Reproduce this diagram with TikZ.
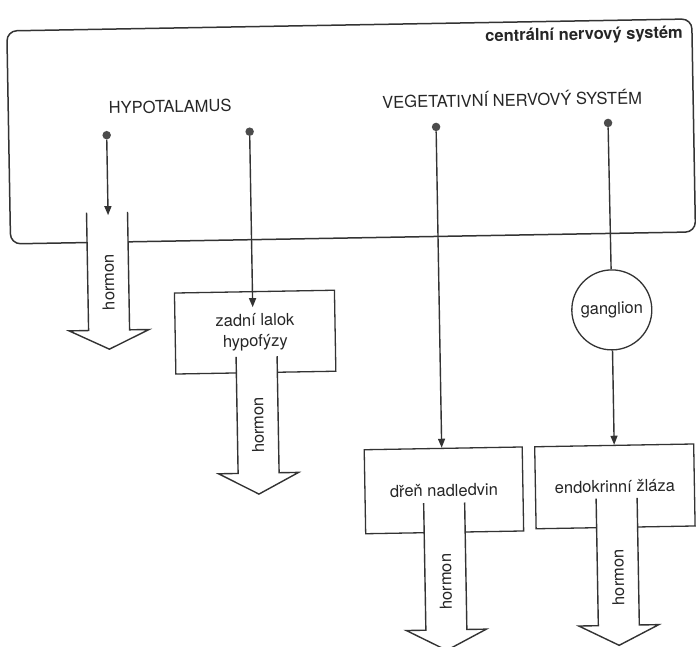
\documentclass[tikz,border=0pt]{standalone}
\usepackage{fontspec}
\setmainfont{TeX Gyre Heros}
\usetikzlibrary{arrows.meta}
\tikzset{
  ink/.style={draw=black!80, line width=1.4pt},
  lbl/.style={font=\fontsize{16.5}{21}\selectfont, text=black!85, inner sep=0pt},
  dotnode/.style={circle, fill=black!70, inner sep=0pt, minimum size=8.5pt},
  boxnode/.style={ink, line width=1.3pt, rectangle, fill=white, minimum width=159pt, minimum height=82pt,
                  align=center, font=\fontsize{16.5}{21}\selectfont, text=black!85},
  nerve/.style={draw=black!80, line width=1.4pt, -{Triangle[length=9pt,width=7pt]}},
  plainnerve/.style={draw=black!80, line width=1.4pt},
}
\newcommand{\hormonArrow}[5]{%
  \fill[white] (#2-20.5,#3) -- (#2-20.5,#4) -- (#2-40,#4) -- (#2,#5) -- (#2+40,#4) -- (#2+20.5,#4) -- (#2+20.5,#3) -- cycle;
  \draw[ink, line join=miter] (#2-20.5,#3) -- (#2-20.5,#4) -- (#2-40,#4) -- (#2,#5) -- (#2+40,#4) -- (#2+20.5,#4) -- (#2+20.5,#3);
  \node[lbl, rotate=90] (#1) at (#2,#4-48) {hormon};
}
\begin{document}
\begin{tikzpicture}[x=1pt,y=-1pt]
\useasboundingbox (0,0) rectangle (696,646);
\clip (0,0) rectangle (696,646);
\begin{scope}[rotate around={1:(348,323)}, transform shape]
  % central nervous system frame
  \node[ink, line width=1.5pt, rounded corners=10pt, minimum width=685pt, minimum height=213pt] (cns) at (354.5,131.5) {};
  \node[lbl, font=\fontsize{16.5}{20}\selectfont\bfseries, anchor=base east] (title) at (688,44) {centrální nervový systém};
  \node[lbl, anchor=base] (hyp) at (174,109.5) {HYPOTALAMUS};
  \node[lbl, anchor=base] (veg) at (516,109) {VEGETATIVNÍ NERVOVÝ SYSTÉM};

  % target organs
  \node[boxnode, minimum width=160pt, minimum height=81pt] (hyph) at (255,330.5) {zadní lalok\\hypofýzy};
  \node[boxnode, minimum width=158pt, minimum height=84pt] (dren) at (441,492) {dřeň nadledvin};
  \node[boxnode, minimum width=159pt, minimum height=82pt] (endo) at (612,491) {endokrinní žláza};
  \node[ink, line width=1.3pt, circle, fill=white, minimum size=80pt, inner sep=0pt,
        font=\fontsize{16.5}{21}\selectfont, text=black!85] (gang) at (612,314.5) {ganglion};

  % hormone arrows
  \hormonArrow{h1}{109}{208}{326}{345}
  \hormonArrow{h2}{256}{355}{471.5}{492.5}
  \hormonArrow{h3}{441}{504.5}{631.5}{652}
  \hormonArrow{h4}{613.5}{503}{630}{650}

  % nerve endings
  \node[dotnode] (d1) at (110,131) {};
  \node[dotnode] (d2) at (253,130) {};
  \node[dotnode] (d3) at (439.5,128.5) {};
  \node[dotnode] (d4) at (611.5,127.5) {};
  \coordinate (t1) at (110,211);
  \coordinate (t2) at (253,305.5);

  \draw[nerve] (d1) -- (t1);
  \draw[nerve] (d2) -- (t2);
  \draw[nerve] (d3) -- (d3 |- dren.north);
  \draw[plainnerve] (d4) -- (gang.north);
  \draw[nerve] (gang.south) -- (endo.north);
\end{scope}
\end{tikzpicture}
\end{document}
